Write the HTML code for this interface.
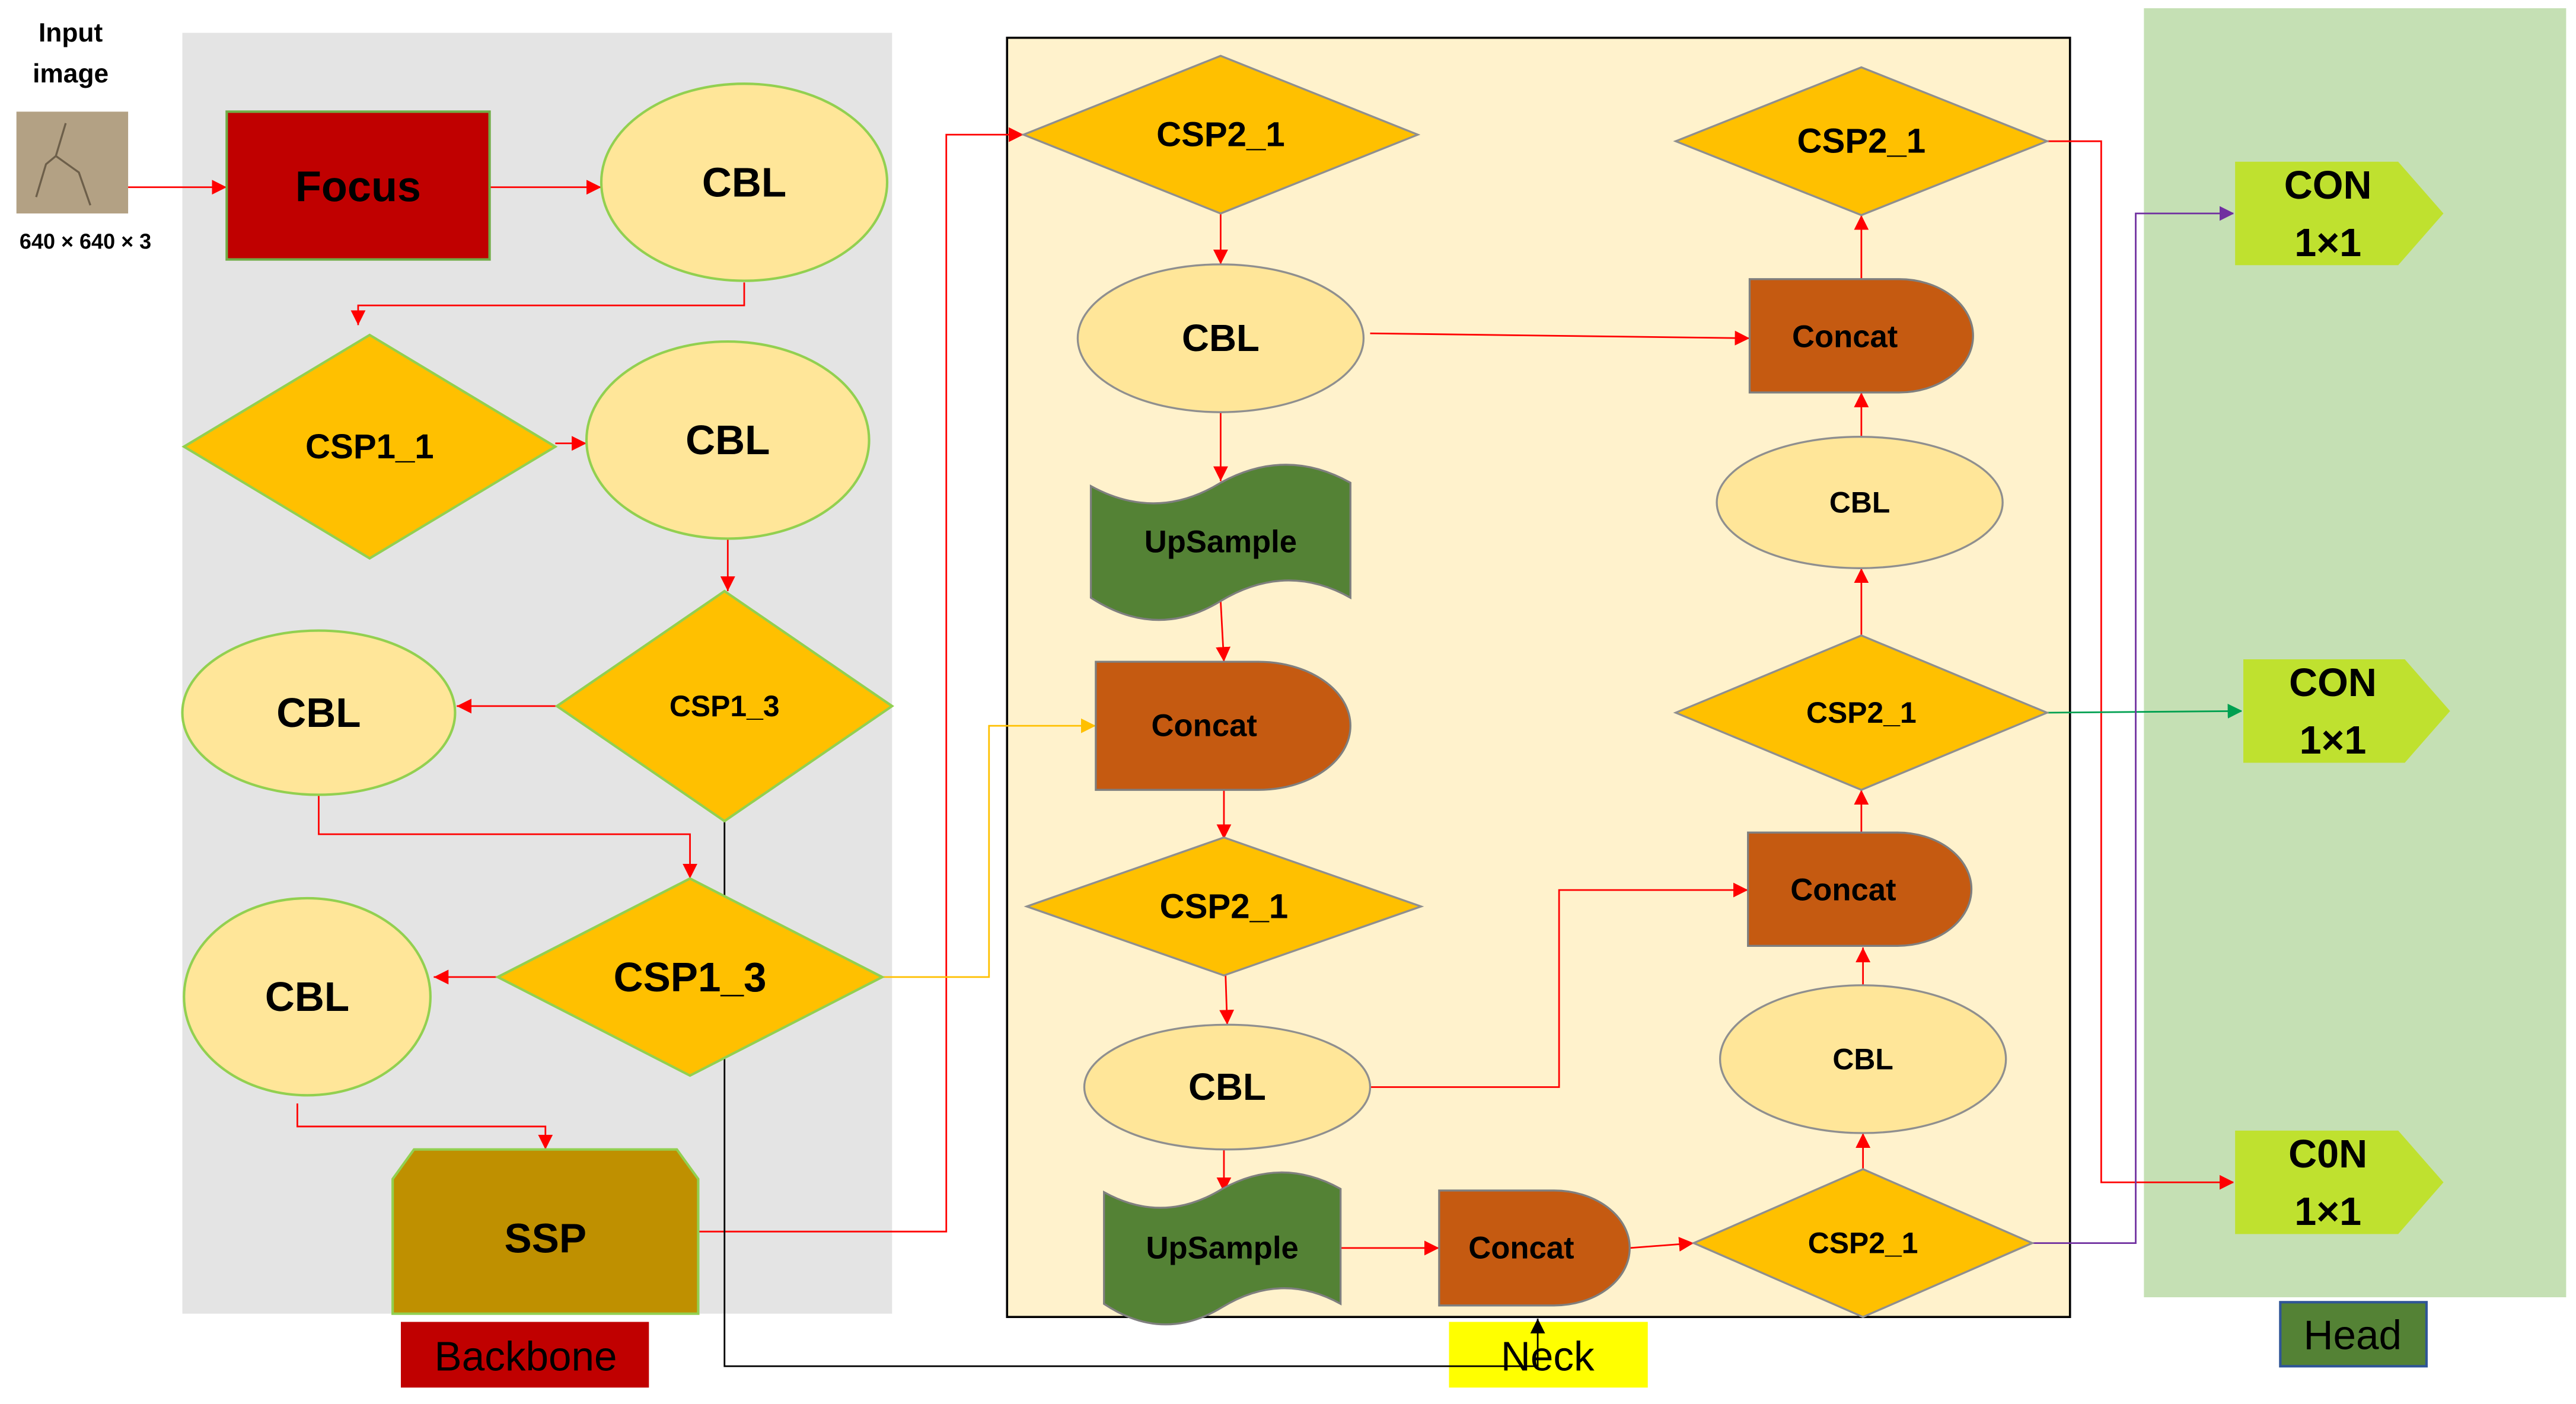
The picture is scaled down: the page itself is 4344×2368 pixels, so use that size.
<!DOCTYPE html>
<html><head><meta charset="utf-8"><style>
html,body{margin:0;padding:0;background:#fff;}
svg{display:block;}
text{font-family:"Liberation Sans",sans-serif;font-weight:bold;fill:#000;text-anchor:middle;dominant-baseline:central;}
</style></head><body>
<svg width="4344" height="2368" viewBox="0 0 1568 855" preserveAspectRatio="none" xmlns="http://www.w3.org/2000/svg">
<defs>
<marker id="ar" viewBox="0 0 10 10" refX="10" refY="5" markerWidth="9" markerHeight="9" markerUnits="userSpaceOnUse" orient="auto"><path d="M0,0L10,5L0,10z" fill="#ff0000"/></marker>
<marker id="ay" viewBox="0 0 10 10" refX="10" refY="5" markerWidth="9" markerHeight="9" markerUnits="userSpaceOnUse" orient="auto"><path d="M0,0L10,5L0,10z" fill="#ffc000"/></marker>
<marker id="ag" viewBox="0 0 10 10" refX="10" refY="5" markerWidth="9" markerHeight="9" markerUnits="userSpaceOnUse" orient="auto"><path d="M0,0L10,5L0,10z" fill="#00a050"/></marker>
<marker id="ap" viewBox="0 0 10 10" refX="10" refY="5" markerWidth="9" markerHeight="9" markerUnits="userSpaceOnUse" orient="auto"><path d="M0,0L10,5L0,10z" fill="#7030a0"/></marker>
<marker id="ak" viewBox="0 0 10 10" refX="10" refY="5" markerWidth="9" markerHeight="9" markerUnits="userSpaceOnUse" orient="auto"><path d="M0,0L10,5L0,10z" fill="#000"/></marker>
</defs>
<!-- backgrounds -->
<rect x="111" y="20" width="432" height="780" fill="#e4e4e4"/>
<rect x="613" y="23" width="647" height="779" fill="#fff2cc" stroke="#000" stroke-width="1.3"/>
<rect x="1305" y="5" width="257" height="785" fill="#c5e0b4"/>
<!-- labels -->
<rect x="244" y="805" width="151" height="40" fill="#c00000"/>
<text x="320" y="826" style="font-weight:normal;font-size:25px">Backbone</text>
<rect x="882" y="805" width="121" height="40" fill="#ffff00"/>
<text x="942" y="826" style="font-weight:normal;font-size:25px">Neck</text>
<rect x="1388" y="793" width="89" height="39" fill="#548235" stroke="#2f5597" stroke-width="1.5"/>
<text x="1432" y="813" style="font-weight:normal;font-size:25px">Head</text>
<!-- input -->
<text x="43" y="20" style="font-size:16px">Input</text>
<text x="43" y="45" style="font-size:16px">image</text>
<rect x="10" y="68" width="68" height="62" fill="#b3a184"/>
<path d="M40,75 L34,95 L28,100 L22,120 M34,95 L48,105 L55,125" stroke="#6d5f4a" stroke-width="1.2" fill="none"/>
<text x="52" y="147" style="font-size:13px">640 × 640 × 3</text>
<!-- connectors backbone -->
<g stroke="#ff0000" stroke-width="1" fill="none" marker-end="url(#ar)">
<path d="M78,114H138"/>
<path d="M298,114H366"/>
<path d="M453,172V186H218V198"/>
<path d="M338,270H357"/>
<path d="M443,328V360"/>
<path d="M339,430H278"/>
<path d="M194,484V508H420V535"/>
<path d="M303,595H264"/>
<path d="M181,672V686H332V700"/>
<path d="M425,750H576V82H623"/>
</g>
<path d="M537,595H602V442H667" stroke="#ffc000" stroke-width="1" fill="none" marker-end="url(#ay)"/>
<path d="M441,500V832H936V803" stroke="#000" stroke-width="1" fill="none" marker-end="url(#ak)"/>
<!-- neck connectors -->
<g stroke="#ff0000" stroke-width="1" fill="none" marker-end="url(#ar)">
<path d="M743,130V161"/>
<path d="M743,251V293"/>
<path d="M743,366L745,403"/>
<path d="M745,481V511"/>
<path d="M746,594L747,624"/>
<path d="M745,700V726"/>
<path d="M816,760H876"/>
<path d="M992,760L1031,757"/>
<path d="M1134,712V690"/>
<path d="M1134,600V577"/>
<path d="M1133,507V481"/>
<path d="M1133,387V346"/>
<path d="M1133,266V239"/>
<path d="M1133,170V131"/>
<path d="M834,662H949V542H1064"/>
<path d="M834,203L1065,206"/>
<path d="M1246,86H1279V720H1360"/>
</g>
<path d="M1246,434L1365,433" stroke="#00a050" stroke-width="1" fill="none" marker-end="url(#ag)"/>
<path d="M1237,757H1300V130H1360" stroke="#7030a0" stroke-width="1" fill="none" marker-end="url(#ap)"/>
<!-- backbone shapes -->
<rect x="138" y="68" width="160" height="90" fill="#c00000" stroke="#70ad47" stroke-width="1.5"/>
<text x="218" y="114" style="font-size:26px">Focus</text>
<g fill="#ffe699" stroke="#92d050" stroke-width="1.5">
<ellipse cx="453" cy="111" rx="87" ry="60"/>
<ellipse cx="443" cy="268" rx="86" ry="60"/>
<ellipse cx="194" cy="434" rx="83" ry="50"/>
<ellipse cx="187" cy="607" rx="75" ry="60"/>
</g>
<g fill="#ffc000" stroke="#92d050" stroke-width="1.5">
<path d="M112,272L225,204L338,272L225,340Z"/>
<path d="M339,430L441,360L543,430L441,500Z"/>
<path d="M303,595L420,535L537,595L420,655Z"/>
</g>
<path d="M239,800V718L252,700H412L425,718V800Z" fill="#bf9000" stroke="#92d050" stroke-width="1.5"/>
<text x="453" y="111" style="font-size:25px">CBL</text>
<text x="443" y="268" style="font-size:25px">CBL</text>
<text x="194" y="434" style="font-size:25px">CBL</text>
<text x="187" y="607" style="font-size:25px">CBL</text>
<text x="225" y="272" style="font-size:21px">CSP1_1</text>
<text x="441" y="430" style="font-size:18px">CSP1_3</text>
<text x="420" y="595" style="font-size:25px">CSP1_3</text>
<text x="332" y="754" style="font-size:25px">SSP</text>
<!-- neck shapes -->
<g fill="#ffc000" stroke="#8f8f8f" stroke-width="1.2">
<path d="M623,82L743,34L863,82L743,130Z"/>
<path d="M625,552L745,510L865,552L745,594Z"/>
<path d="M1031,757L1134,712L1237,757L1134,802Z"/>
<path d="M1020,434L1133,387L1246,434L1133,481Z"/>
<path d="M1020,86L1133,41L1246,86L1133,131Z"/>
</g>
<g fill="#ffe699" stroke="#8f8f8f" stroke-width="1.2">
<ellipse cx="743" cy="206" rx="87" ry="45"/>
<ellipse cx="747" cy="662" rx="87" ry="38"/>
<ellipse cx="1134" cy="645" rx="87" ry="45"/>
<ellipse cx="1132" cy="306" rx="87" ry="40"/>
</g>
<g fill="#548235" stroke="#7f7f7f" stroke-width="1.2">
<path d="M664,296Q704,318 743,294Q783,272 822,294V364Q783,342 743,366Q704,390 664,364Z"/>
<path d="M672,726Q708,746 744,724Q780,704 816,724V794Q780,774 744,796Q708,818 672,794Z"/>
</g>
<g fill="#c55a11" stroke="#7f7f7f" stroke-width="1.2">
<path d="M667,403H766A56,39 0 0 1 766,481H667Z"/>
<path d="M876,725H946A46,35 0 0 1 946,795H876Z"/>
<path d="M1064,507H1155A45,34.5 0 0 1 1155,576H1064Z"/>
<path d="M1065,170H1156A45,34.5 0 0 1 1156,239H1065Z"/>
</g>
<text x="743" y="82" style="font-size:21px">CSP2_1</text>
<text x="745" y="552" style="font-size:21px">CSP2_1</text>
<text x="1134" y="757" style="font-size:18px">CSP2_1</text>
<text x="1133" y="434" style="font-size:18px">CSP2_1</text>
<text x="1133" y="86" style="font-size:21px">CSP2_1</text>
<text x="743" y="206" style="font-size:23px">CBL</text>
<text x="747" y="662" style="font-size:23px">CBL</text>
<text x="1134" y="645" style="font-size:18px">CBL</text>
<text x="1132" y="306" style="font-size:18px">CBL</text>
<text x="743" y="330" style="font-size:19px">UpSample</text>
<text x="744" y="760" style="font-size:19px">UpSample</text>
<text x="733" y="442" style="font-size:19px">Concat</text>
<text x="926" y="760" style="font-size:19px">Concat</text>
<text x="1122" y="542" style="font-size:19px">Concat</text>
<text x="1123" y="205" style="font-size:19px">Concat</text>
<!-- head -->
<g fill="#bfe12f" stroke="#c5e0b4" stroke-width="1">
<path d="M1360,98H1460L1488,130L1460,162H1360Z"/>
<path d="M1365,401H1464L1492,433L1464,465H1365Z"/>
<path d="M1360,688H1460L1488,720L1460,752H1360Z"/>
</g>
<text x="1417" y="113" style="font-size:24px">CON</text>
<text x="1417" y="148" style="font-size:24px">1×1</text>
<text x="1420" y="416" style="font-size:24px">CON</text>
<text x="1420" y="451" style="font-size:24px">1×1</text>
<text x="1417" y="703" style="font-size:24px">C0N</text>
<text x="1417" y="738" style="font-size:24px">1×1</text>
</svg>
</body></html>
